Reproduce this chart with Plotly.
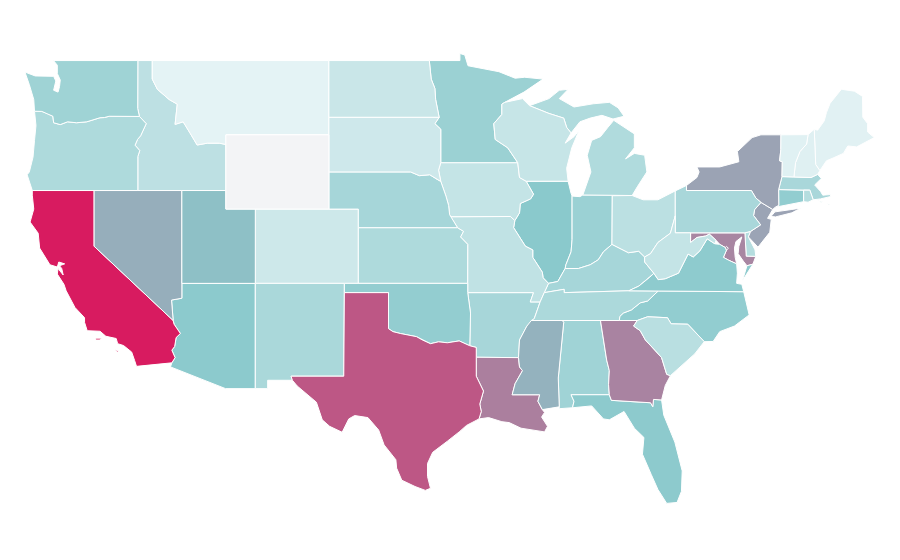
import plotly.graph_objects as go
from plotly.colors import sample_colorscale

# Plotly's built-in state map needs a topojson file fetched over the network, so it stays blank here.
# These state outlines are hand-approximated lon/lat boundaries, simplified, not survey data.
# They are drawn on linear lon/lat axes, which match the reference's projection.
states = ["AL","AZ","AR","CA","CO","CT","DE","FL","GA","ID","IL","IN","IA","KS","KY","LA","ME","MD","MA","MI","MN","MS","MO","MT","NE","NV","NH","NJ","NM","NY","NC","ND","OH","OK","OR","PA","RI","SC","SD","TN","TX","UT","VT","VA","WA","WV","WI","WY","DC"]
values = [19.7,24.5,18,100,8.8,23,14.6,24.3,55,12.7,25,20.9,11,16.3,18.2,57,4,54,17.5,15.8,21,35,12,3.2,18.2,36.5,4.5,41,17.3,41.5,23,9.8,13.2,22.8,16.3,17.5,14.6,13.6,8.6,16.8,74,29,4.2,24,20,11,10.5,0,50]
colorscale = [[0, "#f3f4f6"], [0.03, "#e5f3f5"], [0.25, "#8ac9cc"], [1, "#d81b60"]]

outlines = {
"WA": [[(-122.76,49),(-117.03,49),(-117.04,46.42),(-116.92,45.99),(-118.98,46),(-119.3,45.93),(-119.6,45.92),(-120.5,45.7),(-121.2,45.65),(-121.8,45.7),(-122.3,45.55),(-122.75,45.65),(-122.8,46),(-123.2,46.15),(-123.55,46.26),(-124.05,46.27),(-124.1,46.9),(-124.4,47.7),(-124.7,48.38),(-124,48.17),(-123.1,48.15),(-122.75,48.15),(-122.6,47.9),(-122.75,47.4),(-122.45,47.3),(-122.35,47.6),(-122.3,47.95),(-122.5,48.3),(-122.5,48.75)]],
"OR": [[(-124.2,42),(-120,42),(-117.03,42),(-117.03,43.83),(-116.9,44.15),(-117.22,44.44),(-117.05,44.75),(-116.84,44.95),(-116.46,45.6),(-116.92,45.99),(-118.98,46),(-119.3,45.93),(-119.6,45.92),(-120.5,45.7),(-121.2,45.65),(-121.8,45.7),(-122.3,45.55),(-122.75,45.65),(-122.8,46),(-123.2,46.15),(-123.55,46.26),(-124.05,46.27),(-123.95,45.5),(-124.05,44.7),(-124.15,43.8),(-124.4,43),(-124.55,42.85)]],
"CA": [[(-124.2,42),(-120,42),(-120,39),(-114.63,35),(-114.57,34.8),(-114.14,34.3),(-114.43,34.08),(-114.53,33.6),(-114.72,33.4),(-114.5,33),(-114.72,32.72),(-117.12,32.53),(-117.25,32.85),(-117.45,33.3),(-118,33.65),(-118.4,33.75),(-118.5,34.03),(-119.2,34.15),(-119.6,34.42),(-120.47,34.45),(-120.65,34.9),(-120.65,35.15),(-121.3,35.7),(-121.9,36.6),(-122.05,36.95),(-122.5,37.5),(-122.45,37.8),(-122.1,37.45),(-122.2,37.8),(-122.35,37.95),(-122,38.05),(-122.4,38.15),(-122.5,37.88),(-123,38),(-123.7,38.9),(-123.8,39.7),(-124.35,40.3),(-124.1,41),(-124.2,41.75)],[(-119.9,34.05),(-119.5,34.05),(-119.6,33.95),(-119.9,33.95)],[(-118.6,33.45),(-118.3,33.35),(-118.4,33.3)]],
"NV": [[(-120,42),(-114.04,42),(-114.04,36.2),(-114.74,36.1),(-114.63,35),(-120,39)]],
"ID": [[(-117.03,49),(-116.05,49),(-116.05,48),(-115.7,47.45),(-114.9,46.9),(-114.35,46.65),(-114.5,45.56),(-113.95,45.7),(-113.45,45.05),(-113,44.45),(-112.3,44.55),(-111.5,44.55),(-111.05,44.48),(-111.05,42),(-114.04,42),(-117.03,42),(-117.03,43.83),(-116.9,44.15),(-117.22,44.44),(-117.05,44.75),(-116.84,44.95),(-116.46,45.6),(-116.92,45.99),(-117.04,46.42)]],
"MT": [[(-116.05,49),(-104.05,49),(-104.05,45),(-111.05,45),(-111.05,44.48),(-111.5,44.55),(-112.3,44.55),(-113,44.45),(-113.45,45.05),(-113.95,45.7),(-114.5,45.56),(-114.35,46.65),(-114.9,46.9),(-115.7,47.45),(-116.05,48)]],
"WY": [[(-111.05,45),(-104.05,45),(-104.05,41),(-111.05,41)]],
"UT": [[(-114.04,42),(-111.05,42),(-111.05,41),(-109.05,41),(-109.05,37),(-114.04,37)]],
"CO": [[(-109.05,41),(-102.05,41),(-102.05,37),(-109.05,37)]],
"AZ": [[(-114.04,37),(-109.05,37),(-109.05,31.33),(-111.07,31.33),(-114.81,32.5),(-114.72,32.72),(-114.5,33),(-114.72,33.4),(-114.53,33.6),(-114.43,34.08),(-114.14,34.3),(-114.57,34.8),(-114.63,35),(-114.74,36.1),(-114.04,36.2)]],
"NM": [[(-109.05,37),(-103,37),(-103.04,32),(-106.62,32),(-106.53,31.78),(-108.21,31.78),(-108.21,31.33),(-109.05,31.33)]],
"ND": [[(-104.05,49),(-97.23,49),(-97.1,48),(-96.85,47.5),(-96.8,46.9),(-96.56,45.94),(-104.05,45.94)]],
"SD": [[(-104.05,45.94),(-96.56,45.94),(-96.85,45.6),(-96.45,45.3),(-96.45,43.5),(-96.6,43.1),(-96.45,42.49),(-96.7,42.6),(-97.2,42.85),(-97.9,42.8),(-98.5,43),(-104.05,43)]],
"NE": [[(-104.05,43),(-98.5,43),(-97.9,42.8),(-97.2,42.85),(-96.7,42.6),(-96.45,42.49),(-96.1,41.7),(-95.92,41.2),(-95.85,40.7),(-95.31,40),(-102.05,40),(-102.05,41),(-104.05,41)]],
"KS": [[(-102.05,40),(-95.31,40),(-94.9,39.8),(-95.1,39.5),(-94.61,39.1),(-94.62,37),(-102.05,37)]],
"OK": [[(-103,37),(-94.62,37),(-94.62,36.5),(-94.43,35.4),(-94.48,33.64),(-95.2,33.9),(-96,33.8),(-96.6,33.85),(-97.15,33.75),(-97.7,33.95),(-98.1,34.13),(-99.2,34.3),(-99.7,34.4),(-100,34.56),(-100,36.5),(-103,36.5)]],
"TX": [[(-106.62,32),(-103.04,32),(-103,36.5),(-100,36.5),(-100,34.56),(-99.7,34.4),(-99.2,34.3),(-98.1,34.13),(-97.7,33.95),(-97.15,33.75),(-96.6,33.85),(-96,33.8),(-95.2,33.9),(-94.48,33.64),(-94.04,33.55),(-94.04,33.02),(-94.04,32),(-93.55,31.2),(-93.8,30.5),(-93.7,30.1),(-93.85,29.7),(-94.7,29.35),(-95.2,29),(-96,28.5),(-97,27.9),(-97.35,27.3),(-97.35,26.6),(-97.15,25.96),(-97.5,25.85),(-98.2,26.06),(-99.1,26.4),(-99.45,27.05),(-99.5,27.5),(-100.3,28.3),(-100.67,29.1),(-101.4,29.77),(-102.3,29.88),(-102.7,29.7),(-103.15,28.98),(-104,29.3),(-104.5,29.65),(-104.9,30.6),(-106.2,31.47),(-106.53,31.78)]],
"MN": [[(-97.23,49),(-95.15,49),(-95.15,49.38),(-94.82,49.3),(-94.6,48.72),(-93.5,48.55),(-92.5,48.4),(-91.4,48.05),(-90.75,48.1),(-89.5,48),(-90.8,47.3),(-92.1,46.75),(-92.3,46.65),(-92.3,46.1),(-92.85,45.6),(-92.75,44.75),(-91.9,44.3),(-91.22,43.5),(-96.45,43.5),(-96.45,45.3),(-96.85,45.6),(-96.56,45.94),(-96.8,46.9),(-96.85,47.5),(-97.1,48)]],
"IA": [[(-96.45,43.5),(-91.22,43.5),(-91.1,42.7),(-90.65,42.5),(-90.15,41.8),(-90.35,41.55),(-91.05,41.3),(-91.1,40.8),(-91.42,40.38),(-91.72,40.6),(-95.77,40.58),(-95.85,40.7),(-95.92,41.2),(-96.1,41.7),(-96.45,42.49),(-96.6,43.1)]],
"MO": [[(-95.77,40.58),(-91.72,40.6),(-91.42,40.38),(-91.5,40),(-90.7,39),(-90.2,38.8),(-90.2,38.4),(-89.55,37.6),(-89.5,37.3),(-89.13,37),(-89.42,36.5),(-89.7,36),(-90.37,36),(-90.15,36.5),(-94.62,36.5),(-94.62,37),(-94.61,39.1),(-95.1,39.5),(-94.9,39.8),(-95.31,40)]],
"AR": [[(-94.62,36.5),(-90.15,36.5),(-90.37,36),(-89.7,36),(-90.1,35.1),(-90.6,34.7),(-91.1,33.95),(-91.17,33),(-94.04,33.02),(-94.04,33.55),(-94.48,33.64),(-94.43,35.4)]],
"LA": [[(-94.04,33.02),(-91.17,33),(-91.1,32.5),(-90.9,32.3),(-91.4,31.6),(-91.6,31),(-89.73,31),(-89.85,30.65),(-89.55,30.2),(-89.4,30.05),(-89.6,29.8),(-89.2,29.3),(-89.4,29),(-90.2,29.1),(-91,29.2),(-91.8,29.5),(-92.3,29.55),(-93.2,29.77),(-93.85,29.7),(-93.7,30.1),(-93.8,30.5),(-93.55,31.2),(-94.04,32)]],
"MS": [[(-91.17,33),(-91.1,33.95),(-90.6,34.7),(-90.3,35),(-88.2,35),(-88.1,34.9),(-88.47,31.9),(-88.4,30.35),(-89.55,30.2),(-89.85,30.65),(-89.73,31),(-91.6,31),(-91.4,31.6),(-90.9,32.3),(-91.1,32.5)]],
"AL": [[(-88.2,35),(-85.6,35),(-85.18,32.87),(-85,32.3),(-85.05,31.55),(-85,31),(-87.6,31),(-87.4,30.65),(-87.5,30.3),(-88.4,30.25),(-88.47,31.9),(-88.1,34.9)]],
"FL": [[(-87.6,31),(-85,31),(-84.86,30.7),(-82.2,30.57),(-82.05,30.36),(-82,30.75),(-81.45,30.72),(-81.3,29.9),(-80.55,28.45),(-80.05,26.9),(-80.1,25.8),(-80.4,25.2),(-81.1,25.15),(-81.7,25.9),(-82.15,26.7),(-82.75,27.8),(-82.65,28.7),(-83.3,29.2),(-84,30.1),(-85,29.65),(-85.4,29.7),(-86.2,30.4),(-87.5,30.3),(-87.4,30.65)]],
"GA": [[(-85.6,35),(-83.1,35),(-83.35,34.7),(-82.9,34.45),(-82.55,33.95),(-81.9,33.4),(-81.45,33),(-81.1,32.1),(-80.85,32.03),(-81.2,31.5),(-81.45,30.72),(-82,30.75),(-82.05,30.36),(-82.2,30.57),(-84.86,30.7),(-85,31),(-85.05,31.55),(-85,32.3),(-85.18,32.87)]],
"SC": [[(-83.1,35),(-82.4,35.2),(-81.05,35.15),(-80.8,34.82),(-79.67,34.8),(-78.55,33.86),(-79.2,33.2),(-79.9,32.7),(-80.85,32.03),(-81.1,32.1),(-81.45,33),(-81.9,33.4),(-82.55,33.95),(-82.9,34.45),(-83.35,34.7)]],
"NC": [[(-84.32,35),(-84.29,35.22),(-84.05,35.4),(-83.5,35.57),(-82.9,35.95),(-82.4,36.05),(-81.68,36.59),(-75.87,36.55),(-75.5,35.3),(-76.5,34.7),(-77.5,34.4),(-77.95,33.87),(-78.55,33.86),(-79.67,34.8),(-80.8,34.82),(-81.05,35.15),(-82.4,35.2),(-83.1,35)]],
"TN": [[(-90.3,35),(-88.2,35),(-85.6,35),(-84.32,35),(-84.29,35.22),(-84.05,35.4),(-83.5,35.57),(-82.9,35.95),(-82.4,36.05),(-81.68,36.59),(-83.68,36.6),(-88.07,36.5),(-88.07,36.68),(-89.42,36.5),(-89.7,36),(-90.1,35.1)]],
"KY": [[(-89.42,36.5),(-88.07,36.68),(-88.07,36.5),(-83.68,36.6),(-83,36.85),(-82.3,37.3),(-81.97,37.54),(-82.6,38.15),(-82.6,38.42),(-83,38.73),(-83.7,38.65),(-84.2,38.85),(-84.82,39.1),(-85.4,38.7),(-85.75,38.27),(-86.3,38),(-87.1,37.8),(-88,37.8),(-88.5,37.1),(-89.13,37)]],
"IL": [[(-90.65,42.5),(-87.8,42.5),(-87.6,41.85),(-87.53,41.7),(-87.53,39.35),(-87.6,38.7),(-87.95,38),(-88,37.8),(-88.5,37.1),(-89.13,37),(-89.5,37.3),(-89.55,37.6),(-90.2,38.4),(-90.2,38.8),(-90.7,39),(-91.5,40),(-91.42,40.38),(-91.1,40.8),(-91.05,41.3),(-90.35,41.55),(-90.15,41.8)]],
"IN": [[(-87.53,41.7),(-87,41.67),(-86.8,41.76),(-84.8,41.76),(-84.82,39.1),(-85.4,38.7),(-85.75,38.27),(-86.3,38),(-87.1,37.8),(-88,37.8),(-87.95,38),(-87.6,38.7),(-87.53,39.35)]],
"OH": [[(-84.8,41.72),(-83.45,41.73),(-82.7,41.5),(-81.7,41.5),(-80.52,41.98),(-80.52,40.64),(-80.85,39.7),(-81.7,39.2),(-82.2,38.6),(-82.6,38.42),(-83,38.73),(-83.7,38.65),(-84.2,38.85),(-84.82,39.1)]],
"MI": [[(-86.8,41.76),(-84.8,41.72),(-83.45,41.73),(-83.1,42.2),(-82.45,43),(-82.6,43.9),(-83.3,44),(-83.9,43.7),(-83.3,44.3),(-83.3,45.05),(-84.7,45.78),(-85.1,45.4),(-85.6,44.9),(-86.2,44.7),(-86.5,43.9),(-86.25,43),(-86.6,42.2)],[(-90.42,46.57),(-89.1,46.95),(-88.4,47.4),(-87.8,47.45),(-88.4,46.95),(-87.4,46.5),(-86.1,46.67),(-85,46.75),(-84.4,46.45),(-84,46),(-84.75,45.85),(-85.5,46.05),(-86.3,45.9),(-87,45.7),(-87.6,45.1),(-87.9,45.4),(-88.1,45.9),(-89.1,46.15)]],
"WI": [[(-92.3,46.65),(-92.1,46.75),(-90.9,46.95),(-90.42,46.57),(-89.1,46.15),(-88.1,45.9),(-87.9,45.4),(-87.6,45.1),(-88,44.55),(-87.4,44.9),(-87.05,45.25),(-87.55,44.3),(-87.9,43.2),(-87.8,42.5),(-90.65,42.5),(-91.1,42.7),(-91.22,43.5),(-91.9,44.3),(-92.75,44.75),(-92.85,45.6),(-92.3,46.1)]],
"PA": [[(-80.52,41.98),(-79.76,42.27),(-79.76,42),(-75.35,42),(-75.05,41.6),(-74.7,41.36),(-75.13,40.97),(-75.2,40.65),(-74.72,40.15),(-75.4,39.8),(-75.79,39.72),(-80.52,39.72)]],
"NY": [[(-79.76,42.27),(-79.05,42.7),(-78.9,43),(-79.05,43.27),(-77.5,43.27),(-76.2,43.55),(-76.3,44.1),(-75.3,44.85),(-74.7,45),(-73.34,45),(-73.35,44.2),(-73.43,43.6),(-73.25,43.55),(-73.27,42.75),(-73.5,42.05),(-73.49,41.2),(-73.73,41.1),(-73.9,40.98),(-74.7,41.36),(-75.05,41.6),(-75.35,42),(-79.76,42)],[(-74.02,40.6),(-73.75,40.85),(-72.6,40.98),(-72,41.05),(-72.6,40.8),(-73.7,40.58)]],
"NJ": [[(-74.7,41.36),(-73.9,40.98),(-74.25,40.5),(-74,40.45),(-74.1,39.75),(-74.9,38.95),(-75.55,39.5),(-75.4,39.8),(-74.72,40.15),(-75.2,40.65),(-75.13,40.97)]],
"DE": [[(-75.79,39.72),(-75.4,39.8),(-75.55,39.5),(-75.1,38.8),(-75.05,38.45),(-75.7,38.46)]],
"MD": [[(-79.48,39.72),(-75.79,39.72),(-75.7,38.46),(-75.05,38.45),(-75.25,38.03),(-75.65,37.95),(-75.9,38.2),(-76.25,38.6),(-76.2,39),(-76,39.5),(-76.4,39.25),(-76.5,38.9),(-76.45,38.4),(-76.35,38.05),(-76.9,38.25),(-77.25,38.4),(-77.04,38.79),(-77.12,38.93),(-77.5,39.1),(-77.75,39.32),(-78.2,39.65),(-78.45,39.55),(-79.05,39.47),(-79.48,39.2)]],
"DC": [[(-77.12,38.93),(-77.04,38.99),(-76.91,38.89),(-77.04,38.79)]],
"VA": [[(-83.68,36.6),(-81.68,36.59),(-75.87,36.55),(-76,36.95),(-76.35,37),(-76.3,37.55),(-76.35,38.05),(-76.9,38.25),(-77.25,38.4),(-77.04,38.79),(-77.12,38.93),(-77.5,39.1),(-77.83,39.13),(-78.35,39.4),(-78.85,38.75),(-79.3,38.42),(-79.65,38.58),(-80.3,37.55),(-81.2,37.25),(-81.68,37.2),(-81.97,37.54),(-82.3,37.3),(-83,36.85)],[(-75.65,37.95),(-75.25,38.03),(-75.95,37.15)]],
"WV": [[(-80.52,40.64),(-80.52,39.72),(-79.48,39.72),(-79.48,39.2),(-79.05,39.47),(-78.45,39.55),(-78.2,39.65),(-77.75,39.32),(-77.83,39.13),(-78.35,39.4),(-78.85,38.75),(-79.3,38.42),(-79.65,38.58),(-80.3,37.55),(-81.2,37.25),(-81.68,37.2),(-81.97,37.54),(-82.6,38.15),(-82.6,38.42),(-82.2,38.6),(-81.7,39.2),(-80.85,39.7)]],
"CT": [[(-73.5,42.05),(-71.8,42.02),(-71.8,41.4),(-72.9,41.25),(-73.73,41.1),(-73.49,41.2)]],
"RI": [[(-71.8,42.02),(-71.38,42.02),(-71.15,41.5),(-71.5,41.37),(-71.8,41.4)]],
"MA": [[(-73.5,42.05),(-73.27,42.75),(-72.46,42.73),(-71.3,42.7),(-70.85,42.87),(-70.6,42.65),(-71.05,42.3),(-70.65,41.95),(-70.5,41.75),(-70,41.78),(-70.1,42.05),(-69.95,41.68),(-70.65,41.55),(-71.15,41.5),(-71.38,42.02),(-71.8,42.02)],[(-70.8,41.45),(-70.5,41.4),(-70.6,41.35)],[(-70.2,41.3),(-70,41.3),(-70.1,41.24)]],
"VT": [[(-73.34,45),(-71.5,45.01),(-71.6,44.5),(-72.05,44.1),(-72.35,43.5),(-72.46,42.73),(-73.27,42.75),(-73.25,43.55),(-73.43,43.6),(-73.35,44.2)]],
"NH": [[(-71.5,45.01),(-71.08,45.3),(-70.98,43.4),(-70.7,43.07),(-70.85,42.87),(-71.3,42.7),(-72.46,42.73),(-72.35,43.5),(-72.05,44.1),(-71.6,44.5)]],
"ME": [[(-71.08,45.3),(-70.85,45.25),(-70.4,45.75),(-70.25,46.2),(-70,46.7),(-69.23,47.46),(-69.05,47.43),(-68.35,47.35),(-67.8,47.07),(-67.78,45.95),(-67.45,45.6),(-67.45,45.15),(-67,44.85),(-68.2,44.35),(-68.8,44.4),(-69.1,44),(-69.8,43.75),(-70.25,43.6),(-70.7,43.07),(-70.98,43.4)]],
}

fig = go.Figure()
for state, value in zip(states, values):
    x, y = [], []
    for ring in outlines[state]:
        closed = ring + ring[:1]
        x += [p[0] for p in closed] + [None]
        y += [p[1] for p in closed] + [None]
    fig.add_trace(go.Scatter(
        x=x, y=y, mode="lines", fill="toself", name=state,
        fillcolor=sample_colorscale(colorscale, value / 100)[0],
        line=dict(color="white", width=1), hovertext=f"{state}: {value}", hoverinfo="text",
    ))

fig.update_xaxes(visible=False, range=[-125.85, -64.71], fixedrange=True)
fig.update_yaxes(visible=False, range=[21.67, 51.83], fixedrange=True)
fig.update_layout(width=900, height=560, margin=dict(l=0, r=0, t=0, b=0),
                  paper_bgcolor="white", plot_bgcolor="white", showlegend=False)
fig.write_html("out.html")
